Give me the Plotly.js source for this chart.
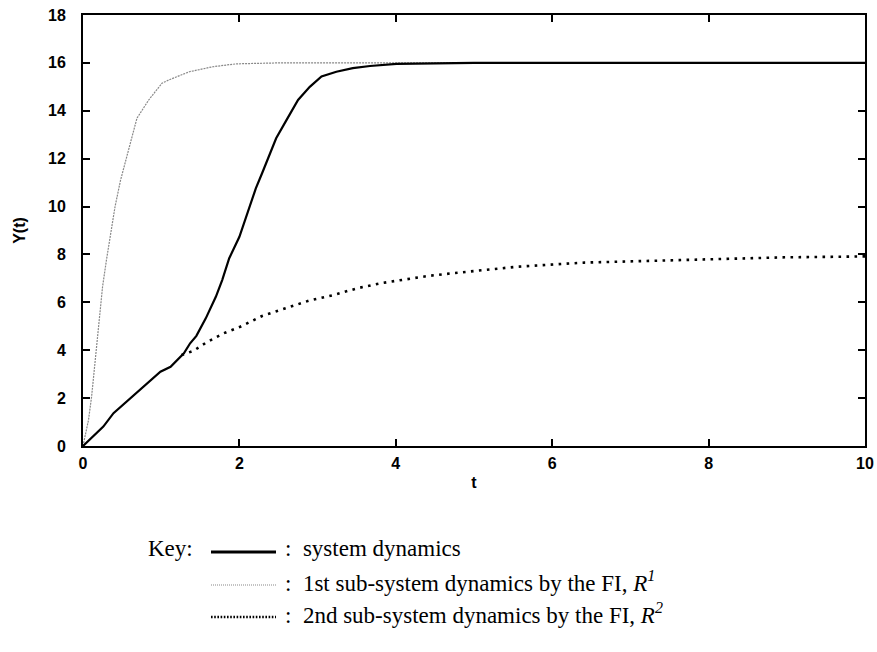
<!DOCTYPE html>
<html>
<head>
<meta charset="utf-8">
<script src="https://cdn.plot.ly/plotly-3.0.1.min.js"></script>
<style>html,body{margin:0;padding:0;background:#fff;}#chart{width:877px;height:652px;}</style>
</head>
<body>
<div id="chart"></div>
<script>
// System dynamics (solid)
var tSys = [0, 0.13, 0.26, 0.39, 0.58, 0.82, 0.99, 1.12, 1.29, 1.37, 1.45, 1.57, 1.70, 1.78, 1.87, 2.0, 2.10, 2.21, 2.29, 2.47, 2.60, 2.75, 2.90, 3.05, 3.24, 3.45, 3.67, 4.01, 5, 6, 7, 8, 9, 10];
var ySys = [0, 0.39, 0.81, 1.37, 1.92, 2.62, 3.10, 3.31, 3.87, 4.29, 4.60, 5.33, 6.24, 6.93, 7.84, 8.74, 9.72, 10.76, 11.39, 12.85, 13.6, 14.45, 15.0, 15.43, 15.63, 15.78, 15.87, 15.96, 16, 16, 16, 16, 16, 16];
// 1st sub-system dynamics by the FI, R^1
var tSub1 = [0, 0.07, 0.11, 0.15, 0.18, 0.22, 0.25, 0.30, 0.35, 0.41, 0.48, 0.59, 0.69, 0.84, 1.01, 1.10, 1.36, 1.66, 1.96, 2.5, 3, 4, 5, 6, 7, 8, 9, 10];
var ySub1 = [0, 1.08, 2.06, 3.31, 4.43, 5.54, 6.65, 7.77, 8.88, 10.0, 11.1, 12.5, 13.69, 14.45, 15.15, 15.29, 15.63, 15.84, 15.96, 16.0, 16.0, 16.0, 16.0, 16.0, 16.0, 16.0, 16.0, 16.0];
// 2nd sub-system dynamics by the FI, R^2
var tSub2 = [1.26, 1.41, 1.58, 1.80, 2.01, 2.29, 2.59, 2.89, 3.21, 3.51, 3.81, 4.11, 4.41, 4.71, 5.03, 5.56, 6.41, 7.27, 8.12, 8.98, 9.83, 10];
var ySub2 = [3.80, 3.97, 4.33, 4.71, 4.98, 5.43, 5.75, 6.07, 6.31, 6.59, 6.80, 6.96, 7.10, 7.21, 7.31, 7.49, 7.66, 7.74, 7.82, 7.88, 7.91, 7.92];

var keyLabels = [": system dynamics", ": 1st sub-system dynamics by the FI, <i>R</i><sup><i>1</i></sup>", ": 2nd sub-system dynamics by the FI, <i>R</i><sup><i>2</i></sup>"];

var styles = [
  {color: '#000', width: 2.2, dash: 'solid'},
  {color: '#888', width: 1.2, dash: '2px,1px'},
  {color: '#000', width: 2.6, dash: '2.6px,5.4px'}
];

var traces = [
  {x: tSub1, y: ySub1, mode: 'lines', line: styles[1], hoverinfo: 'skip', showlegend: false},
  {x: tSys, y: ySys, mode: 'lines', line: styles[0], hoverinfo: 'skip', showlegend: false},
  {x: tSub2, y: ySub2, mode: 'lines', line: styles[2], hoverinfo: 'skip', showlegend: false}
];

// plot area in pixels: left 83, right 865, top 15, bottom 446
var L = 83, R = 12, T = 15, B = 206;
var W = 877 - L - R, H = 652 - T - B;
function px(x) { return (x - L) / W; }
function py(y) { return (652 - B - y) / H; }

var rowY = [548, 581, 613];
var keyFont = {family: 'Liberation Serif', size: 23, color: '#000'};
var shapes = [], annotations = [];
annotations.push({xref: 'paper', yref: 'paper', x: px(146), y: py(rowY[0]), xanchor: 'left', yanchor: 'middle',
  text: 'Key:', showarrow: false, font: keyFont});
for (var i = 0; i < 3; i++) {
  shapes.push({type: 'line', xref: 'paper', yref: 'paper', x0: px(211), x1: px(276), y0: py(rowY[i] + 4), y1: py(rowY[i] + 4),
    line: {color: styles[i].color, width: i === 0 ? 3 : styles[i].width, dash: i === 2 ? '1.6px,1.6px' : (i === 1 ? '1px,1px' : 'solid')}});
  annotations.push({xref: 'paper', yref: 'paper', x: px(283), y: py(rowY[i]), xanchor: 'left', yanchor: 'middle',
    text: keyLabels[i].replace(': ', ':&nbsp;&nbsp;'), showarrow: false, font: keyFont});
}

var tickFont = {family: 'Liberation Sans', size: 16, color: '#000', weight: 'bold'};
var axisCommon = {
  showline: true, linecolor: '#000', linewidth: 2, mirror: 'ticks',
  ticks: 'inside', ticklen: 7, tickwidth: 2, tickcolor: '#000',
  showgrid: false, zeroline: false,
  tickfont: tickFont
};

var layout = {
  width: 877, height: 652,
  margin: {l: L, r: R, t: T, b: B, pad: 0},
  paper_bgcolor: '#fff', plot_bgcolor: '#fff',
  xaxis: Object.assign({}, axisCommon, {range: [0, 10], dtick: 2, tick0: 0, ticklabelstandoff: 2,
    title: {text: 't', font: {family: 'Liberation Sans', size: 16, color: '#000', weight: 'bold'}, standoff: 6}}),
  yaxis: Object.assign({}, axisCommon, {range: [0, 18], dtick: 2, tick0: 0, ticklabelstandoff: 12,
    title: {text: 'Y(t)', font: {family: 'Liberation Sans', size: 16, color: '#000', weight: 'bold'}, standoff: 18}}),
  shapes: shapes,
  annotations: annotations,
  showlegend: false
};

Plotly.newPlot('chart', traces, layout, {staticPlot: true, displayModeBar: false});
</script>
</body>
</html>
